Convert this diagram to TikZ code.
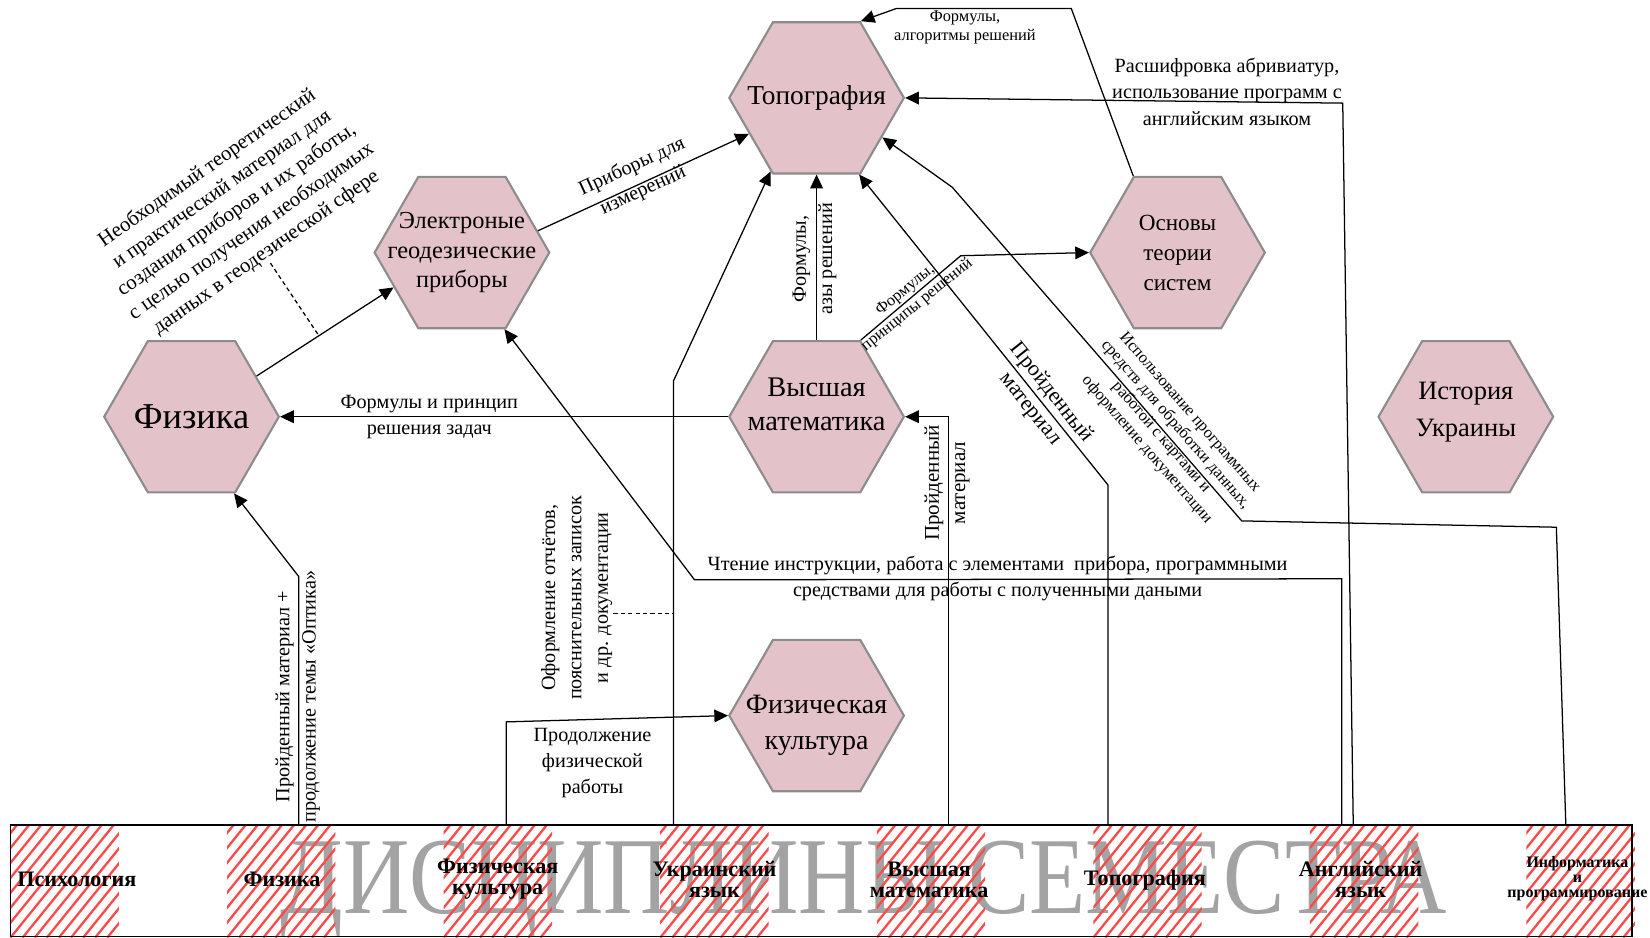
\documentclass[tikz,border=0pt]{standalone}
\usepackage{fontspec}
\setmainfont{Liberation Serif}
\usetikzlibrary{arrows.meta,shapes.geometric}
\definecolor{hexfill}{HTML}{E4C2CA}
\definecolor{hexline}{HTML}{8C8C8C}
\definecolor{hatch}{HTML}{FF4A4A}
\definecolor{watermark}{HTML}{A3A3A3}

\begin{document}
\begin{tikzpicture}[x=0.5pt,y=-0.5pt,
  disc/.style={regular polygon,regular polygon sides=6,minimum size=83pt,inner sep=0pt,
    fill=hexfill,draw=hexline,line width=1pt},
  hextxt/.style={align=center,inner sep=0pt},
  link/.style={line width=0.6pt,-{Triangle[length=6.5pt,width=6pt]}},
  wire/.style={line width=0.6pt},
  note/.style={font=\fontsize{9.6}{12.5}\selectfont,align=center,inner sep=1pt},
  small/.style={font=\fontsize{7.8}{9}\selectfont,align=center,inner sep=1pt},
  subj/.style={font=\bfseries\fontsize{10.5}{10}\selectfont,align=center,inner sep=0pt}]
  \useasboundingbox (0,0) rectangle (1568,891);

  % Semester band
  \node[font=\fontsize{52}{52}\selectfont,text=watermark] (semester) at (821,845)
    {\scalebox{0.84}[1]{ДИСЦИПЛИНЫ СЕМЕСТРА}};
  \foreach \i in {0,...,7} {
    \begin{scope}
      \clip (10+205.8*\i,785) rectangle ++(103,106);
      \foreach \k in {-8,...,9}
        \draw[hatch,line width=1.1pt] (10+205.8*\i+\k*11.5,891) -- ++(86.6,-107);
    \end{scope}
  }
  \draw[line width=0.8pt] (10,784) rectangle (1551,890);
  \node[subj] (psy) at (73,836) {Психология};
  \node[subj] (sphys) at (268,836) {Физика};
  \node[subj] (ssport) at (473,835) {Физическая\\культура};
  \node[subj] (sukr) at (679,836) {Украинский\\язык};
  \node[subj] (smath) at (883,836) {Высшая\\математика};
  \node[subj] (stopo) at (1088,836) {Топография};
  \node[subj] (seng) at (1293,836) {Английский\\язык};
  \node[subj,font=\bfseries\fontsize{7.6}{7}\selectfont] (sinfo) at (1499,835)
    {Информатика\\и\\программирование};

  % Column outlets
  \coordinate (c1) at (284,784);
  \coordinate (c2) at (481,784);
  \coordinate (c3) at (640,784);
  \coordinate (c4) at (901,784);
  \coordinate (c5) at (1053,784);
  \coordinate (c6) at (1275,784);
  \coordinate (c7) at (1286,784);
  \coordinate (c8) at (1488,784);

  % Hexagons
  \node[disc] (topo) at (776,93) {};
  \node[hextxt,font=\fontsize{13}{15}\selectfont] (topot) at (topo.center) {Топография};
  \node[disc] (elec) at (439,240) {};
  \node[hextxt,font=\fontsize{11.6}{14}\selectfont] (elect) at (elec.center)
    {Электроные\\геодезические\\приборы};
  \node[disc] (phys) at (182,396) {};
  \node[hextxt,font=\fontsize{17.3}{20}\selectfont] (physt) at (phys.center) {Физика};
  \node[disc] (math) at (776,396) {};
  \node[hextxt,font=\fontsize{13.5}{16}\selectfont] (matht) at (776,384)
    {Высшая\\математика};
  \node[disc] (syst) at (1119,240) {};
  \node[hextxt,font=\fontsize{11}{14.2}\selectfont] (systt) at (syst.center)
    {Основы\\теории\\систем};
  \node[disc] (hist) at (1393,396) {};
  \node[hextxt,font=\fontsize{12.6}{17.5}\selectfont] (histt) at (1393,392)
    {История\\Украины};
  \node[disc] (sport) at (776,680) {};
  \node[hextxt,font=\fontsize{13.3}{17}\selectfont] (sportt) at (776,689)
    {Физическая\\культура};

  % Links between hexagons
  \draw[link] (phys.32) -- (elec.207);
  \draw[link] (elec.16) -- (topo.208);
  \draw[link] (math.west) -- (phys.east);
  \draw[link] (math.north) -- (topo.south);
  \draw[link] (math.60) -- (913,243) -- (syst.west);
  \draw[link] (syst.120) -- (1018,8) -- (852,8) -- (topo.60);

  % Links from the band
  \draw[link] (c1) -- (284,548) -- (phys.299);
  \draw[link] (c2) -- (481,686) -- (sport.west);
  \draw[link] (c3) -- (640,362) -- (topo.238);
  \draw[link] (c4) -- (901,396) -- (math.east);
  \draw[link] (c5) -- (1053,461) -- (topo.299);
  \draw[link] (c6) -- (1275,550) -- (660,551) -- (elec.299);
  \draw[link] (c7) -- (1276,98) -- (topo.east);
  \draw[link] (c8) -- (1479,501) -- (1180,495) -- (905,178) -- (topo.329);

  % Labels
  \node[note,font=\fontsize{9.9}{12.2}\selectfont,rotate=35] (need) at (225,200)
    {Необходимый теоретический\\и практический материал для\\создания приборов и их работы,\\с целью получения необходимых\\данных в геодезической сфере};
  \coordinate (needfoot) at (257,250);
  \coordinate (needlink) at (303,319);
  \draw[wire,dash pattern=on 2pt off 1.5pt] (needfoot) -- (needlink);
  \node[note,rotate=24.8] (devlbl) at (606,170) {Приборы для\\измерений};
  \node[note] (mathlbl) at (408,396) {Формулы и принцип\\решения задач};
  \node[note,rotate=90] (azlbl) at (774,246) {Формулы,\\азы решений};
  \node[small,rotate=39] (prlbl) at (866,283) {Формулы,\\принципы решений};
  \node[small] (algolbl) at (917,26) {Формулы,\\алгоритмы решений};
  \node[note] (englbl) at (1166,87)
    {Расшифровка абривиатур,\\использование программ с\\английским языком};
  \node[note,font=\fontsize{10.4}{12.5}\selectfont,rotate=-51.5] (passlbl) at (989,381)
    {Пройденный\\материал};
  \node[note,font=\fontsize{10}{12.5}\selectfont,rotate=90] (pass2lbl) at (900,459)
    {Пройденный\\материал};
  \node[small,rotate=-49] (infolbl) at (1110,410)
    {Использование программных\\средств для обработки данных,\\работой с картами и\\оформление документации};
  \node[note,rotate=90] (doclbl) at (548,568)
    {Оформление отчётов,\\пояснительных записок\\и др. документации};
  \coordinate (docfoot) at (583,583);
  \coordinate (doclink) at (640,583);
  \draw[wire,dash pattern=on 2pt off 1.5pt] (docfoot) -- (doclink);
  \node[note,rotate=90] (optlbl) at (283,662)
    {Пройденный материал +\\продолжение темы «Оптика»};
  \node[note] (sportlbl) at (563,725) {Продолжение\\физической\\работы};
  \node[note] (readlbl) at (948,550)
    {Чтение инструкции, работа с элементами\ \ прибора, программными\\средствами для работы с полученными даными};
\end{tikzpicture}
\end{document}
